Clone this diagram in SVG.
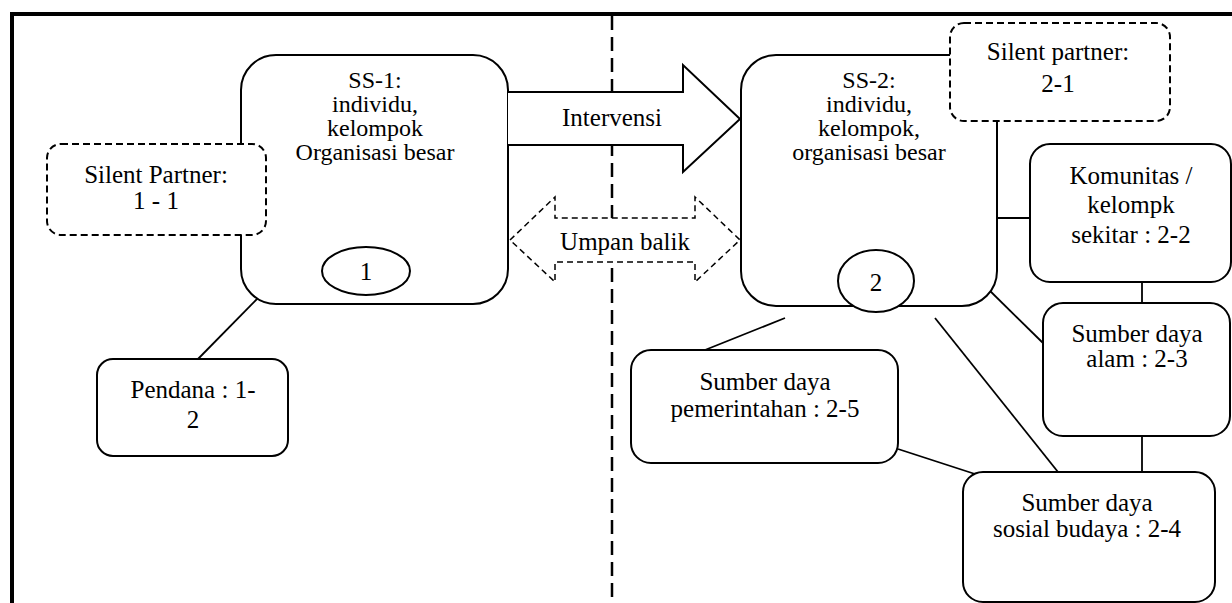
<svg xmlns="http://www.w3.org/2000/svg" width="1232" height="603" viewBox="0 0 1232 603">
<style>
.box{fill:#fff;stroke:#000;stroke-width:2}
.dbox{fill:#fff;stroke:#000;stroke-width:2;stroke-dasharray:7 4}
.ln{stroke:#000;stroke-width:1.8;fill:none}
.t{font-family:'Liberation Serif','Times New Roman',serif;font-size:25px;text-anchor:middle;fill:#000}
.s{font-size:24px}
</style>
<rect x="0" y="0" width="1232" height="603" fill="#fff"/>
<g id="frame">
<line x1="10" y1="14" x2="1232" y2="14" stroke="#000" stroke-width="4"/>
<line x1="12" y1="12" x2="12" y2="603" stroke="#000" stroke-width="4"/>
<line x1="612" y1="16" x2="612" y2="603" stroke="#000" stroke-width="2.5" stroke-dasharray="14 7"/>
</g>
<g id="connectors">
<line class="ln" x1="198" y1="359" x2="258" y2="298"/>
<line class="ln" x1="997" y1="218" x2="1030" y2="218"/>
<line class="ln" x1="1142" y1="282" x2="1142" y2="303"/>
<line class="ln" x1="1142" y1="436" x2="1142" y2="472"/>
<line class="ln" x1="983" y1="284" x2="1043" y2="343"/>
<line class="ln" x1="935" y1="318" x2="1058" y2="472"/>
<line class="ln" x1="785" y1="318" x2="705" y2="350"/>
<line class="ln" x1="898" y1="449" x2="975" y2="474"/>
</g>
<g id="ss1">
<rect class="box" x="241" y="55" width="267" height="249" rx="35"/>
<text class="t s" x="375" y="88">SS-1:</text>
<text class="t s" x="375" y="112">individu,</text>
<text class="t s" x="375" y="136">kelompok</text>
<text class="t s" x="375" y="160">Organisasi besar</text>
<ellipse class="box" cx="366" cy="271" rx="44" ry="24"/>
<text class="t" x="366" y="280">1</text>
</g>
<g id="ss2">
<rect class="box" x="741" y="55" width="256" height="251" rx="35"/>
<text class="t s" x="869" y="88">SS-2:</text>
<text class="t s" x="869" y="112">individu,</text>
<text class="t s" x="869" y="136">kelompok,</text>
<text class="t s" x="869" y="160">organisasi besar</text>
<ellipse class="box" cx="876" cy="281" rx="38" ry="31"/>
<text class="t" x="876" y="291">2</text>
</g>
<g id="intervensi">
<path d="M508,92 H683 V65 L740,119 L683,172 V145 H508" fill="#fff" stroke="#000" stroke-width="2"/>
<text class="t" x="612" y="126">Intervensi</text>
</g>
<g id="umpan-balik">
<polygon points="510,240 555,197 555,218 695,218 695,197 740,240 695,282 695,262 555,262 555,282" fill="#fff" stroke="#000" stroke-width="1.5" stroke-dasharray="6 4"/>
<text class="t" x="625" y="250">Umpan balik</text>
</g>
<g id="silent-partner-1-1">
<rect class="dbox" x="47" y="144" width="219" height="91" rx="14"/>
<text class="t" x="156" y="183">Silent Partner:</text>
<text class="t" x="156" y="209">1 - 1</text>
</g>
<g id="silent-partner-2-1">
<rect class="dbox" x="950" y="23" width="220" height="98" rx="14"/>
<text class="t" x="1058" y="60">Silent partner:</text>
<text class="t" x="1058" y="92">2-1</text>
</g>
<g id="pendana">
<rect class="box" x="97" y="359" width="191" height="97" rx="16"/>
<text class="t" x="193" y="398">Pendana : 1-</text>
<text class="t" x="193" y="428">2</text>
</g>
<g id="komunitas">
<rect class="box" x="1030" y="144" width="201" height="138" rx="20"/>
<text class="t" x="1131" y="184">Komunitas /</text>
<text class="t" x="1131" y="213">kelompk</text>
<text class="t" x="1131" y="243">sekitar : 2-2</text>
</g>
<g id="alam">
<rect class="box" x="1043" y="303" width="187" height="133" rx="20"/>
<text class="t" x="1137" y="342">Sumber daya</text>
<text class="t" x="1137" y="367">alam : 2-3</text>
</g>
<g id="sosial">
<rect class="box" x="963" y="472" width="252" height="130" rx="20"/>
<text class="t" x="1087" y="511">Sumber daya</text>
<text class="t" x="1087" y="537">sosial budaya : 2-4</text>
</g>
<g id="pemerintahan">
<rect class="box" x="631" y="350" width="267" height="113" rx="20"/>
<text class="t" x="765" y="390">Sumber daya</text>
<text class="t" x="765" y="417">pemerintahan : 2-5</text>
</g>
</svg>
